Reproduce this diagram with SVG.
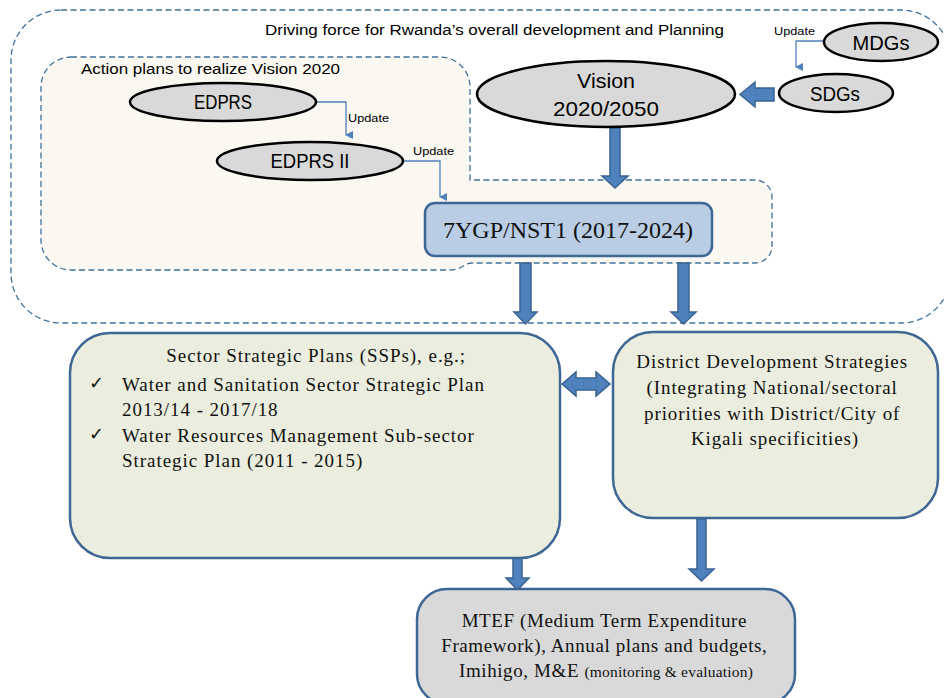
<svg xmlns="http://www.w3.org/2000/svg" width="944" height="698" viewBox="0 0 944 698">
<style>
.dash{fill:none;stroke:#41719C;stroke-width:1.3;stroke-dasharray:6,3.5}
.ell{fill:#D9D9D9;stroke:#000;stroke-width:2.5}
.sans{font-family:"Liberation Sans",Arial,sans-serif;fill:#000}
.serif{font-family:"Liberation Serif","Times New Roman",serif;fill:#111}
.blk{fill:#4F81BD;stroke:#3A6290;stroke-width:1.5;stroke-linejoin:miter}
.thin{fill:none;stroke:#4F81BD;stroke-width:1.3}
.box{stroke:#3E6796;stroke-width:2.5}
</style>
<defs>
<marker id="ah" markerWidth="8" markerHeight="8" refX="4" refY="7" orient="auto-start-reverse" markerUnits="userSpaceOnUse" viewBox="0 0 8 8">
<path d="M0,0 L8,0 L4,8 Z" fill="#4F81BD"/>
</marker>
</defs>
<rect width="944" height="698" fill="#fff"/>
<g id="outer">
<rect class="dash" x="11" y="10" width="940" height="313" rx="50" ry="50"/>
<text class="sans" x="265" y="35" font-size="15.5" textLength="459" lengthAdjust="spacingAndGlyphs">Driving force for Rwanda’s overall development and Planning</text>
</g>
<g id="actionplans">
<path d="M71 57 H440 A30 30 0 0 1 470 87 V180 H755 A17 17 0 0 1 772 197 V246 A17 17 0 0 1 755 263 H472 C464 263 462 270 450 270 H71 A30 30 0 0 1 41 240 V87 A30 30 0 0 1 71 57 Z" fill="#FBF7F1" stroke="#41719C" stroke-width="1.3" stroke-dasharray="6,3.5"/>
<text class="sans" x="81" y="74" font-size="15.5" textLength="259" lengthAdjust="spacingAndGlyphs">Action plans to realize Vision 2020</text>
</g>
<g id="connectors">
<path class="thin" d="M316 102 H346 V135" marker-end="url(#ah)"/>
<path class="thin" d="M403 161 H440 V197" marker-end="url(#ah)"/>
<path class="thin" d="M824 41 H796 V67" marker-end="url(#ah)"/>
<text class="sans" x="348" y="122" font-size="11" textLength="41" lengthAdjust="spacingAndGlyphs">Update</text>
<text class="sans" x="413" y="155" font-size="11" textLength="41" lengthAdjust="spacingAndGlyphs">Update</text>
<text class="sans" x="774" y="35" font-size="11" textLength="41" lengthAdjust="spacingAndGlyphs">Update</text>
<polygon class="blk" points="774,88 755,88 755,82 740,94.5 755,107 755,101 774,101"/>
<polygon class="blk" points="610,128 620,128 620,176 628,176 615,188 602,176 610,176"/>
<polygon class="blk" points="520,263 531,263 531,312 537,312 525.5,324 514,312 520,312"/>
<polygon class="blk" points="678,263 689,263 689,312 696,312 683.5,324 671,312 678,312"/>
<polygon class="blk" points="562,384 576,372 576,378 596,378 596,372 610,384 596,396 596,390 576,390 576,396"/>
<polygon class="blk" points="513,558 522,558 522,578 529,578 517.5,590 506,578 513,578"/>
<polygon class="blk" points="697,519 706,519 706,569 714,569 701.5,581 689,569 697,569"/>
</g>
<g id="edprs">
<ellipse class="ell" cx="223" cy="102" rx="93" ry="19"/>
<text class="sans" x="223" y="109" font-size="20" text-anchor="middle" textLength="58" lengthAdjust="spacingAndGlyphs">EDPRS</text>
</g>
<g id="edprs2">
<ellipse class="ell" cx="310" cy="161" rx="93" ry="19"/>
<text class="sans" x="310" y="168" font-size="20" text-anchor="middle" textLength="79" lengthAdjust="spacingAndGlyphs">EDPRS II</text>
</g>
<g id="vision">
<ellipse class="ell" cx="606" cy="94" rx="129" ry="33"/>
<text class="sans" x="606" y="88" font-size="21" text-anchor="middle" textLength="58" lengthAdjust="spacingAndGlyphs">Vision</text>
<text class="sans" x="606" y="116" font-size="21" text-anchor="middle" textLength="106" lengthAdjust="spacingAndGlyphs">2020/2050</text>
</g>
<g id="mdgs">
<ellipse class="ell" cx="881" cy="42" rx="57" ry="19"/>
<text class="sans" x="881" y="50" font-size="21" text-anchor="middle" textLength="57" lengthAdjust="spacingAndGlyphs">MDGs</text>
</g>
<g id="sdgs">
<ellipse class="ell" cx="836" cy="93" rx="57" ry="19"/>
<text class="sans" x="835" y="101" font-size="21" text-anchor="middle" textLength="50" lengthAdjust="spacingAndGlyphs">SDGs</text>
</g>
<g id="nst1">
<rect class="box" x="425" y="203" width="287" height="53" rx="10" fill="#B9CDE5"/>
<text class="serif" x="568" y="238" font-size="24" text-anchor="middle">7YGP/NST1 (2017-2024)</text>
</g>
<g id="ssp">
<rect class="box" x="70" y="333" width="490" height="225" rx="40" fill="#EBEEDE"/>
<text class="serif" font-size="19" letter-spacing="0.95">
<tspan x="319" y="362" text-anchor="middle">Sector Strategic Plans (SSPs), e.g.;</tspan>
<tspan x="122" y="391">Water and Sanitation Sector Strategic Plan</tspan>
<tspan x="122" y="416">2013/14 - 2017/18</tspan>
<tspan x="122" y="442">Water Resources Management Sub-sector</tspan>
<tspan x="122" y="467">Strategic Plan (2011 - 2015)</tspan>
</text>
<text font-family="DejaVu Sans,sans-serif" font-size="18" fill="#111" x="89" y="389">✓</text>
<text font-family="DejaVu Sans,sans-serif" font-size="18" fill="#111" x="89" y="440">✓</text>
</g>
<g id="dds">
<rect class="box" x="613" y="332" width="325" height="186" rx="40" fill="#EBEEDE"/>
<text class="serif" font-size="19" letter-spacing="0.9" text-anchor="middle">
<tspan x="775" y="368">District Development Strategies</tspan>
<tspan x="775" y="394">(Integrating National/sectoral</tspan>
<tspan x="775" y="420">priorities with District/City of</tspan>
<tspan x="775" y="445">Kigali specificities)</tspan>
</text>
</g>
<g id="mtef">
<rect class="box" x="417" y="589" width="378" height="115" rx="30" fill="#D9D9D9"/>
<text class="serif" font-size="19" letter-spacing="0.6" text-anchor="middle">
<tspan x="607" y="627">MTEF (Medium Term Expenditure</tspan>
<tspan x="607" y="652">Framework), Annual plans and budgets,</tspan>
<tspan x="606" y="677">Imihigo, M&amp;E <tspan font-size="15.5" letter-spacing="0.2">(monitoring &amp; evaluation)</tspan></tspan>
</text>
</g>
</svg>
